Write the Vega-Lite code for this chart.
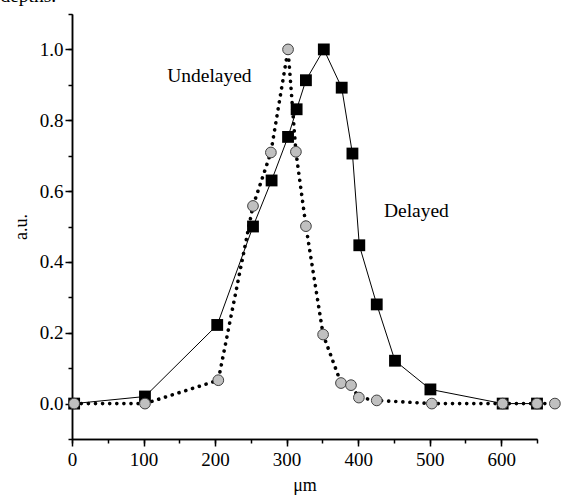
{
  "$schema": "https://vega.github.io/schema/vega-lite/v6.json",
  "width": 465,
  "height": 425,
  "autosize": "none",
  "padding": {"left": 72, "top": 14, "right": 26, "bottom": 58},
  "background": "white",
  "config": {
    "view": {"stroke": null},
    "font": "Liberation Serif",
    "axis": {"grid": false, "domainColor": "black", "tickColor": "black", "labelColor": "black", "titleColor": "black", "labelFont": "Liberation Serif", "titleFont": "Liberation Serif", "labelFontSize": 19, "titleFontSize": 18, "titleFontWeight": "normal", "domainWidth": 1.5, "tickWidth": 1.5}
  },
  "resolve": {"scale": {"x": "shared", "y": "shared"}, "axis": {"x": "independent", "y": "independent"}},
  "datasets": {
    "delayed": [
      {"x": 3, "y": 0.0},
      {"x": 102, "y": 0.02},
      {"x": 203, "y": 0.222},
      {"x": 253, "y": 0.5},
      {"x": 279, "y": 0.63},
      {"x": 302, "y": 0.753},
      {"x": 314, "y": 0.831},
      {"x": 327, "y": 0.913},
      {"x": 352, "y": 1.0},
      {"x": 377, "y": 0.892},
      {"x": 392, "y": 0.706},
      {"x": 401.6, "y": 0.447},
      {"x": 426, "y": 0.28},
      {"x": 451.5, "y": 0.121},
      {"x": 501, "y": 0.04},
      {"x": 602, "y": 0.0},
      {"x": 650, "y": 0.0}
    ],
    "undelayed": [
      {"x": 3, "y": 0.0},
      {"x": 102, "y": 0.0},
      {"x": 204.5, "y": 0.066},
      {"x": 253, "y": 0.558},
      {"x": 278, "y": 0.709},
      {"x": 302, "y": 1.0},
      {"x": 313, "y": 0.711},
      {"x": 327, "y": 0.501},
      {"x": 351, "y": 0.195},
      {"x": 376, "y": 0.058},
      {"x": 390, "y": 0.052},
      {"x": 401, "y": 0.017},
      {"x": 426, "y": 0.009},
      {"x": 503, "y": 0.0},
      {"x": 602, "y": 0.0},
      {"x": 650, "y": 0.0},
      {"x": 675, "y": 0.0}
    ],
    "labels": [
      {"x": 133, "y": 0.909, "text": "Undelayed"},
      {"x": 436, "y": 0.527, "text": "Delayed"},
      {"x": -100, "y": 1.135, "text": "depths."}
    ]
  },
  "layer": [
    {
      "data": {"name": "delayed"},
      "mark": {"type": "line", "color": "black", "strokeWidth": 1},
      "encoding": {
        "x": {"field": "x", "type": "quantitative", "scale": {"domain": [0, 650], "nice": false, "zero": false},
          "axis": {"title": "μm", "orient": "bottom", "values": [0, 100, 200, 300, 400, 500, 600], "format": "d", "tickSize": 7,
            "labelPadding": 4, "titlePadding": 7, "labelFlush": false, "labelOverlap": false}},
        "y": {"field": "y", "type": "quantitative", "scale": {"domain": [-0.1, 1.1], "nice": false, "zero": false},
          "axis": {"title": "a.u.", "orient": "left", "values": [0, 0.2, 0.4, 0.6, 0.8, 1], "format": ".1f", "tickSize": 7,
            "labelPadding": 2, "titlePadding": 9, "labelFlush": false, "labelOverlap": false}}
      }
    },
    {
      "data": {"name": "delayed"},
      "mark": {"type": "point", "shape": "square", "filled": true, "color": "black", "size": 140, "opacity": 1},
      "encoding": {
        "x": {"field": "x", "type": "quantitative",
          "axis": {"title": null, "orient": "bottom", "values": [0, 50, 100, 150, 200, 250, 300, 350, 400, 450, 500, 550, 600, 650], "labels": false, "tickSize": 4}},
        "y": {"field": "y", "type": "quantitative",
          "axis": {"title": null, "orient": "left", "values": [-0.1, 0, 0.1, 0.2, 0.3, 0.4, 0.5, 0.6, 0.7, 0.8, 0.9, 1, 1.1], "labels": false, "tickSize": 4}}
      }
    },
    {
      "data": {"name": "undelayed"},
      "mark": {"type": "line", "color": "black", "strokeWidth": 3.6, "strokeDash": [0.1, 7], "strokeCap": "round"},
      "encoding": {
        "x": {"field": "x", "type": "quantitative", "axis": null},
        "y": {"field": "y", "type": "quantitative", "axis": null}
      }
    },
    {
      "data": {"name": "undelayed"},
      "mark": {"type": "point", "shape": "circle", "filled": true, "fill": "#c0c0c0", "stroke": "#404040", "strokeWidth": 1, "size": 115, "opacity": 1},
      "encoding": {
        "x": {"field": "x", "type": "quantitative", "axis": null},
        "y": {"field": "y", "type": "quantitative", "axis": null}
      }
    },
    {
      "data": {"name": "labels"},
      "mark": {"type": "text", "align": "left", "baseline": "alphabetic", "fontSize": 19.5, "font": "Liberation Serif", "color": "black"},
      "encoding": {
        "x": {"field": "x", "type": "quantitative", "axis": null},
        "y": {"field": "y", "type": "quantitative", "axis": null},
        "text": {"field": "text"}
      }
    }
  ]
}
